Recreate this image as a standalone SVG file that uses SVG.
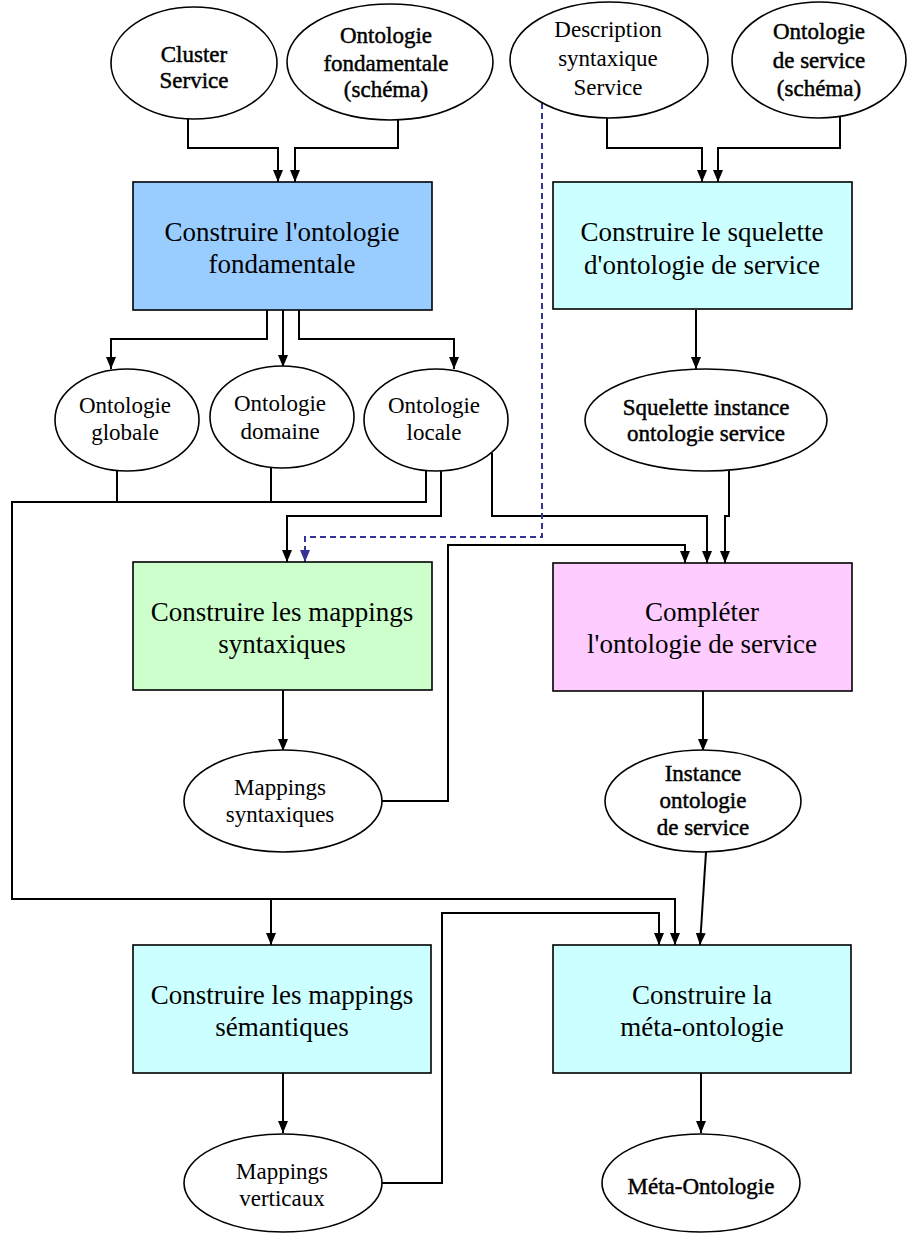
<svg xmlns="http://www.w3.org/2000/svg" width="908" height="1233" viewBox="0 0 908 1233">
<style>
.bg{fill:#ffffff}
.box{stroke:#000;stroke-width:1.6}
.ell{fill:#fff;stroke:#000;stroke-width:1.6}
.bt{font-family:"Liberation Serif","Times New Roman",serif;font-size:27px;fill:#000;text-anchor:middle}
.et{font-family:"Liberation Serif","Times New Roman",serif;font-size:23px;fill:#000;text-anchor:middle}
.eb{font-family:"Liberation Serif","Times New Roman",serif;font-size:23px;fill:#000;stroke:#000;stroke-width:0.45;text-anchor:middle}
.c{fill:none;stroke:#000;stroke-width:2}
.ca{fill:none;stroke:#000;stroke-width:2;marker-end:url(#ah)}
.d{fill:none;stroke:#333399;stroke-width:2;stroke-dasharray:6,4;marker-end:url(#ahb)}
</style>
<defs>
<marker id="ah" markerUnits="userSpaceOnUse" markerWidth="12" markerHeight="10" refX="12" refY="5" orient="auto"><path d="M0,0 L12,5 L0,10 z" fill="#000"/></marker>
<marker id="ahb" markerUnits="userSpaceOnUse" markerWidth="12" markerHeight="10" refX="12" refY="5" orient="auto"><path d="M0,0 L12,5 L0,10 z" fill="#333399"/></marker>
</defs>
<rect class="bg" x="0" y="0" width="908" height="1233"/>

<g id="connectors">
<path class="ca" d="M188,119 V148 H278 V182"/>
<path class="ca" d="M398,119 V148 H295 V182"/>
<path class="ca" d="M607,118 V148 H702 V182"/>
<path class="ca" d="M840,116 V148 H718 V182"/>
<path class="ca" d="M267,310 V339 H111 V369"/>
<path class="ca" d="M283,310 V367"/>
<path class="ca" d="M299,310 V339 H454 V369"/>
<path class="ca" d="M696,310 V369"/>
<path class="c" d="M117,471 V502"/>
<path class="c" d="M271,468 V502"/>
<path class="ca" d="M426,470 V502 H12 V899 H675 V945"/>
<path class="ca" d="M271,899 V945"/>
<path class="ca" d="M441,470 V516 H287 V562"/>
<path class="ca" d="M492,453 V516 H707 V563"/>
<path class="ca" d="M729,471 V516 H725 V563"/>
<path class="ca" d="M381,801 H448 V545 H685 V563"/>
<path class="d" d="M542,103 V537 H305 V562"/>
<path class="ca" d="M283,690 V751"/>
<path class="ca" d="M703,691 V751"/>
<path class="ca" d="M706,852 L700,945"/>
<path class="ca" d="M381,1183 H442 V913 H659 V945"/>
<path class="ca" d="M283,1073 V1133"/>
<path class="ca" d="M701,1073 V1133"/>
</g>

<g id="cluster-service">
<ellipse class="ell" cx="194" cy="63" rx="83" ry="56"/>
<text class="eb" x="194" y="62">Cluster</text>
<text class="eb" x="194" y="88">Service</text>
</g>
<g id="ontologie-fondamentale-schema">
<ellipse class="ell" cx="390" cy="62" rx="103" ry="58"/>
<text class="eb" x="386" y="43">Ontologie</text>
<text class="eb" x="386" y="71">fondamentale</text>
<text class="eb" x="386" y="97">(schéma)</text>
</g>
<g id="description-syntaxique">
<ellipse class="ell" cx="609" cy="60" rx="99" ry="58"/>
<text class="et" x="608" y="37">Description</text>
<text class="et" x="608" y="66">syntaxique</text>
<text class="et" x="608" y="95">Service</text>
</g>
<g id="ontologie-service-schema">
<ellipse class="ell" cx="819" cy="60" rx="87" ry="58"/>
<text class="eb" x="819" y="39">Ontologie</text>
<text class="eb" x="819" y="68">de service</text>
<text class="eb" x="819" y="96">(schéma)</text>
</g>

<g id="construire-ontologie-fondamentale">
<rect class="box" x="133" y="182" width="299" height="128" fill="#99CCFF"/>
<text class="bt" x="282" y="241">Construire l'ontologie</text>
<text class="bt" x="282" y="273">fondamentale</text>
</g>
<g id="construire-squelette">
<rect class="box" x="553" y="182" width="299" height="127" fill="#CCFFFF"/>
<text class="bt" x="702" y="241">Construire le squelette</text>
<text class="bt" x="702" y="274">d'ontologie de service</text>
</g>

<g id="ontologie-globale">
<ellipse class="ell" cx="127" cy="420" rx="72" ry="51"/>
<text class="et" x="125" y="413">Ontologie</text>
<text class="et" x="125" y="440">globale</text>
</g>
<g id="ontologie-domaine">
<ellipse class="ell" cx="282" cy="417" rx="72" ry="51"/>
<text class="et" x="280" y="411">Ontologie</text>
<text class="et" x="280" y="439">domaine</text>
</g>
<g id="ontologie-locale">
<ellipse class="ell" cx="436" cy="420" rx="72" ry="51"/>
<text class="et" x="434" y="413">Ontologie</text>
<text class="et" x="434" y="440">locale</text>
</g>
<g id="squelette-instance">
<ellipse class="ell" cx="706" cy="420" rx="121" ry="51"/>
<text class="eb" x="706" y="415">Squelette instance</text>
<text class="eb" x="706" y="441">ontologie service</text>
</g>

<g id="construire-mappings-syntaxiques">
<rect class="box" x="133" y="562" width="299" height="128" fill="#CCFFCC"/>
<text class="bt" x="282" y="621">Construire les mappings</text>
<text class="bt" x="282" y="653">syntaxiques</text>
</g>
<g id="completer-ontologie-service">
<rect class="box" x="553" y="563" width="299" height="128" fill="#FFCCFF"/>
<text class="bt" x="702" y="621">Compléter</text>
<text class="bt" x="702" y="653">l'ontologie de service</text>
</g>

<g id="mappings-syntaxiques">
<ellipse class="ell" cx="283" cy="801" rx="99" ry="51"/>
<text class="et" x="280" y="795">Mappings</text>
<text class="et" x="280" y="822">syntaxiques</text>
</g>
<g id="instance-ontologie-service">
<ellipse class="ell" cx="703" cy="801" rx="98" ry="51"/>
<text class="eb" x="703" y="781">Instance</text>
<text class="eb" x="703" y="808">ontologie</text>
<text class="eb" x="703" y="835">de service</text>
</g>

<g id="construire-mappings-semantiques">
<rect class="box" x="133" y="945" width="298" height="128" fill="#CCFFFF"/>
<text class="bt" x="282" y="1004">Construire les mappings</text>
<text class="bt" x="282" y="1036">sémantiques</text>
</g>
<g id="construire-meta-ontologie">
<rect class="box" x="553" y="945" width="298" height="128" fill="#CCFFFF"/>
<text class="bt" x="702" y="1004">Construire la</text>
<text class="bt" x="702" y="1036">méta-ontologie</text>
</g>

<g id="mappings-verticaux">
<ellipse class="ell" cx="283" cy="1183" rx="99" ry="49"/>
<text class="et" x="282" y="1179">Mappings</text>
<text class="et" x="282" y="1206">verticaux</text>
</g>
<g id="meta-ontologie">
<ellipse class="ell" cx="701" cy="1183" rx="99" ry="49"/>
<text class="eb" x="701" y="1194">Méta-Ontologie</text>
</g>
</svg>
